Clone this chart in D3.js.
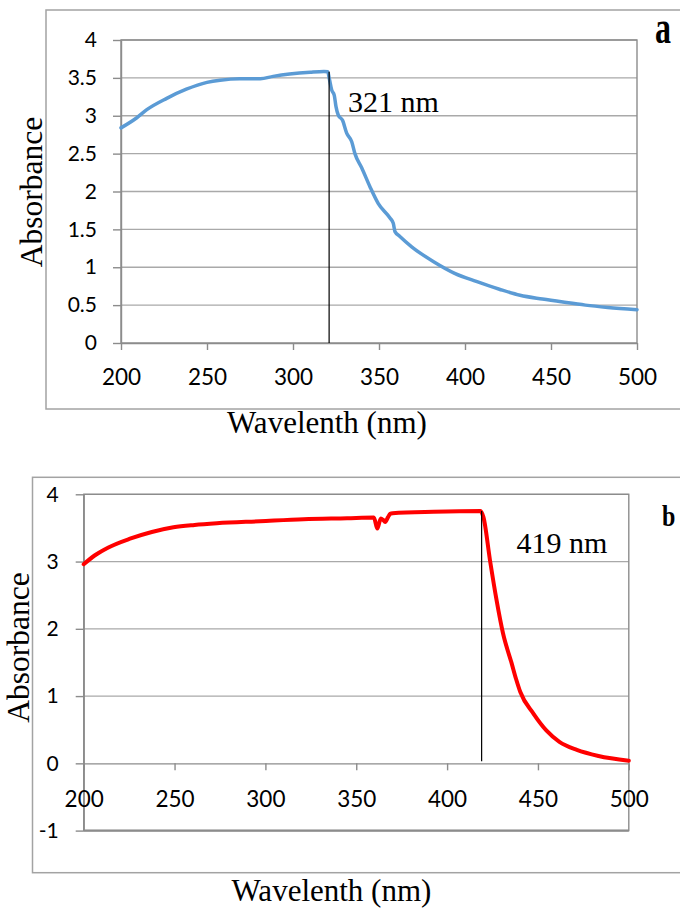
<!DOCTYPE html>
<html>
<head>
<meta charset="utf-8">
<script src="https://cdn.jsdelivr.net/npm/d3@7"></script>
<style>
  html, body { margin: 0; padding: 0; background: #ffffff; }
  svg { display: block; }
  .tick text { font-family: Lato, "Open Sans", sans-serif; fill: #000; }
</style>
</head>
<body>
<script>
// Panel a: absorbance spectrum (blue)
const waveA = [200, 209, 215, 226.6, 238, 250, 257.6, 269, 281, 288.5, 298, 310, 318, 320.2,
  321.1, 322.5, 324, 325, 326.3, 328.8, 331.2, 334.1, 336, 340, 344.8, 349.6, 356.4, 358.3,
  359.3, 362, 369, 382, 394, 407, 420, 432, 445, 457, 470, 483, 500];
const absA = [2.84, 2.97, 3.08, 3.23, 3.35, 3.44, 3.47, 3.49, 3.49, 3.52, 3.55, 3.575, 3.585, 3.58,
  3.49, 3.34, 3.27, 3.12, 3.01, 2.94, 2.77, 2.66, 2.50, 2.31, 2.06, 1.84, 1.65, 1.58,
  1.47, 1.41, 1.27, 1.07, 0.92, 0.81, 0.71, 0.63, 0.58, 0.54, 0.50, 0.47, 0.44];

// Panel b: absorbance spectrum (red)
const waveB = [200, 206, 213.6, 225.5, 237.5, 249.4, 261, 273.3, 297, 321, 345, 359.7, 361.6,
  363.5, 364.8, 365.9, 367.5, 368.7, 370, 392.6, 418.4, 420, 423.6, 427.2, 430.8, 435.5, 438,
  440.3, 447.5, 454.6, 461.8, 471.4, 483.3, 500];
const absB = [2.96, 3.09, 3.21, 3.34, 3.44, 3.51, 3.545, 3.57, 3.60, 3.63, 3.645, 3.655, 3.49,
  3.64, 3.62, 3.59, 3.66, 3.71, 3.72, 3.74, 3.75, 3.66, 3.02, 2.43, 1.93, 1.49, 1.25,
  1.06, 0.74, 0.49, 0.32, 0.20, 0.11, 0.04];

// Axis ticks
const xTicks = [200, 250, 300, 350, 400, 450, 500];
const yTicksA = [0, 0.5, 1, 1.5, 2, 2.5, 3, 3.5, 4];
const yTicksB = [-1, 0, 1, 2, 3, 4];

// Band-edge markers (nm) and their labels
const edgeA = 321;
const edgeB = 419;
const edgeLabelA = "321 nm";
const edgeLabelB = "419 nm";

const xTitle = "Wavelenth (nm)";
const yTitle = "Absorbance";

const svg = d3.select("body").append("svg")
  .attr("width", 680).attr("height", 909);

const serif = "'Liberation Serif', 'Times New Roman', serif";
const gridColor = "#a9a9a9";
const axisColor = "#8c8c8c";

function panel(o) {
  const g = svg.append("g");
  // outer chart frame
  g.append("rect")
    .attr("x", o.frame[0]).attr("y", o.frame[1])
    .attr("width", 760).attr("height", o.frame[2])
    .attr("fill", "none").attr("stroke", "#a3a3a3").attr("stroke-width", 1.5);

  const x = d3.scaleLinear().domain([200, 500]).range(o.xr);
  const y = d3.scaleLinear().domain(o.yd).range(o.yr);

  // horizontal gridlines
  g.append("g").selectAll("line")
    .data(o.yTicks.filter(d => d !== 0 && d !== o.yd[0]))
    .join("line")
    .attr("x1", x(200)).attr("x2", x(500))
    .attr("y1", d => y(d)).attr("y2", d => y(d))
    .attr("stroke", gridColor).attr("stroke-width", 1.3);

  // plot-area border
  g.append("rect")
    .attr("x", x(200)).attr("y", y(o.yd[1]))
    .attr("width", x(500) - x(200)).attr("height", y(o.yd[0]) - y(o.yd[1]))
    .attr("fill", "none").attr("stroke", axisColor).attr("stroke-width", 1.4);
  if (o.yd[0] < 0) {
    g.append("line")
      .attr("x1", x(200)).attr("x2", x(500))
      .attr("y1", y(o.yd[0])).attr("y2", y(o.yd[0]))
      .attr("stroke", axisColor).attr("stroke-width", 2.2);
  }

  // y axis
  const ya = g.append("g")
    .attr("transform", `translate(${x(200)},0)`)
    .call(d3.axisLeft(y).tickValues(o.yTicks).tickSize(8).tickSizeOuter(0)
      .tickPadding(o.yPad).tickFormat(d => String(d)));
  ya.selectAll("path, line").attr("stroke", axisColor).attr("stroke-width", 1.4);
  ya.selectAll("text").attr("font-size", 21);

  // x axis at absorbance 0
  const xa = g.append("g")
    .attr("transform", `translate(0,${y(0)})`)
    .call(d3.axisBottom(x).tickValues(xTicks).tickSize(7).tickSizeOuter(0)
      .tickPadding(o.xPad).tickFormat(d => String(d)));
  xa.selectAll("path, line").attr("stroke", axisColor).attr("stroke-width", 1.4);
  xa.selectAll("text").attr("font-size", 22.5);

  // spectrum
  const line = d3.line()
    .x(d => x(d[0])).y(d => y(d[1]))
    .curve(d3.curveMonotoneX);
  g.append("path")
    .datum(d3.zip(o.wave, o.abs))
    .attr("d", line)
    .attr("fill", "none").attr("stroke", o.color)
    .attr("stroke-width", o.width).attr("stroke-linejoin", "round").attr("stroke-linecap", "round");

  // band-edge marker
  g.append("line")
    .attr("x1", x(o.edge)).attr("x2", x(o.edge))
    .attr("y1", y(o.edgeTop)).attr("y2", y(o.edgeBottom))
    .attr("stroke", "#000").attr("stroke-width", 1.2);
  g.append("text")
    .attr("x", o.edgeText[0]).attr("y", o.edgeText[1])
    .attr("font-family", serif).attr("font-size", 30)
    .text(o.edgeLabel);

  // axis titles
  g.append("text")
    .attr("transform", `translate(${o.yTitle[0]},${o.yTitle[1]}) rotate(-90)`)
    .attr("text-anchor", "middle")
    .attr("font-family", serif).attr("font-size", 31.5)
    .text(yTitle);
  g.append("text")
    .attr("x", o.xTitle[0]).attr("y", o.xTitle[1])
    .attr("text-anchor", "middle")
    .attr("font-family", serif).attr("font-size", 31)
    .text(xTitle);

  // panel letter
  g.append("text")
    .attr("transform", `translate(${o.letterPos[0]},${o.letterPos[1]}) scale(1,${o.letterStretch})`)
    .attr("font-family", serif).attr("font-weight", "bold")
    .attr("font-size", o.letterSize)
    .text(o.letter);
}

panel({
  frame: [46, 10, 399],
  xr: [121, 637], yd: [0, 4], yr: [343, 40],
  yTicks: yTicksA, yPad: 16, xPad: 19,
  wave: waveA, abs: absA, color: "#5b9bd5", width: 3.5,
  edge: edgeA, edgeTop: 3.58, edgeBottom: 0,
  edgeText: [348, 111.5], edgeLabel: edgeLabelA,
  yTitle: [41.5, 192], xTitle: [327, 433],
  letter: "a", letterPos: [655, 43], letterSize: 32, letterStretch: 1.45
});

panel({
  frame: [32.5, 477.3, 395.4],
  xr: [83.7, 628.8], yd: [-1, 4], yr: [830.6, 494.3],
  yTicks: yTicksB, yPad: 17, xPad: 20.4,
  wave: waveB, abs: absB, color: "#ff0000", width: 4,
  edge: edgeB, edgeTop: 3.75, edgeBottom: 0.03,
  edgeText: [516.5, 553], edgeLabel: edgeLabelB,
  yTitle: [29, 647.5], xTitle: [331.5, 901],
  letter: "b", letterPos: [662, 525.5], letterSize: 24, letterStretch: 1.25
});
</script>
</body>
</html>
